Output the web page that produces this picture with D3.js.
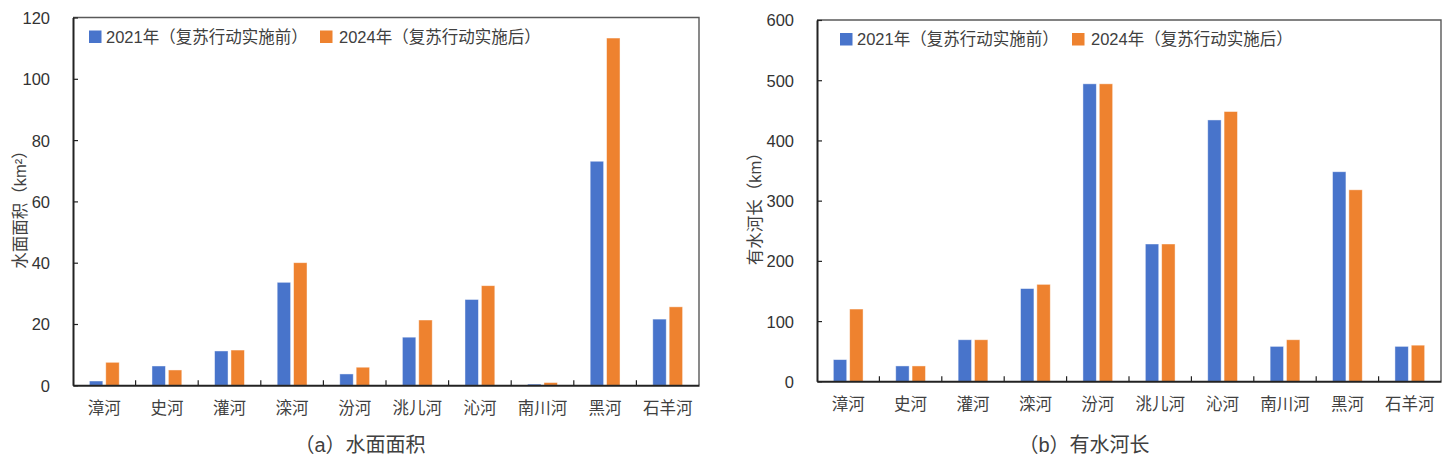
<!DOCTYPE html>
<html>
  <head>
    <meta charset="utf-8" />
    <title>水面面积 / 有水河长</title>
    <style>
      body {
        margin: 0;
        background: #fff;
      }
      svg text {
        font-family: 'Liberation Sans', 'Noto Sans CJK SC', sans-serif;
        fill: #404040;
      }
    </style>
    <script src="https://cdn.jsdelivr.net/npm/d3@7"></script>
  </head>
  <body>
    <svg id="chart" width="1449" height="460"></svg>
    <script>
      var rivers = ['漳河', '史河', '灌河', '滦河', '汾河', '洮儿河', '沁河', '南川河', '黑河', '石羊河'];
      var seriesNames = ['2021年（复苏行动实施前）', '2024年（复苏行动实施后）'];
      var colors = ['#4874CB', '#EE822F'];

      // (a) 水面面积 km²
      var area2021 = [1.4, 6.3, 11.2, 33.6, 3.7, 15.7, 28.0, 0.4, 73.1, 21.6];
      var area2024 = [7.5, 5.0, 11.5, 40.0, 5.9, 21.3, 32.5, 0.9, 113.3, 25.6];
      var areaTicks = [0, 20, 40, 60, 80, 100, 120];

      // (b) 有水河长 km
      var len2021 = [36, 25.5, 69, 154, 494, 228, 434, 58, 348, 58];
      var len2024 = [120, 25.5, 69, 161, 494, 228, 448, 69, 318, 60];
      var lenTicks = [0, 100, 200, 300, 400, 500, 600];

      var svg = d3.select('#chart');

      function panel(cfg) {
        var g = svg.append('g');
        var data = rivers.map((r, i) => ({ river: r, values: cfg.series.map((s) => s[i]) }));

        var x0 = d3.scaleBand().domain(rivers).range([cfg.left, cfg.right]);
        var x1 = d3
          .scaleBand()
          .domain([0, 1])
          .range([0, x0.bandwidth()])
          .paddingInner(0.18)
          .paddingOuter(1.0);
        var y = d3
          .scaleLinear()
          .domain([0, d3.max(cfg.ticks)])
          .range([cfg.bottom, cfg.top]);

        // frame top/right
        g.append('path')
          .attr('d', `M${cfg.left},${cfg.top}H${cfg.right}V${cfg.bottom}`)
          .attr('fill', 'none')
          .attr('stroke', '#595959')
          .attr('stroke-width', 1.4);

        // bars
        g.selectAll('g.river')
          .data(data)
          .join('g')
          .attr('class', 'river')
          .attr('transform', (d) => `translate(${x0(d.river)},0)`)
          .selectAll('rect')
          .data((d) => d.values)
          .join('rect')
          .attr('x', (d, i) => x1(i))
          .attr('width', x1.bandwidth())
          .attr('y', (d) => y(d))
          .attr('height', (d) => cfg.bottom - y(d))
          .attr('fill', (d, i) => colors[i])
          .attr('stroke', 'rgba(255,255,255,0.55)')
          .attr('stroke-width', 0.8);

        // y axis, ticks pointing inward
        var yAxis = g
          .append('g')
          .attr('transform', `translate(${cfg.left},0)`)
          .call(d3.axisLeft(y).tickValues(cfg.ticks).tickSizeInner(-5).tickSizeOuter(0).tickPadding(23));
        yAxis.select('.domain').attr('stroke', '#222').attr('stroke-width', 2);
        yAxis.selectAll('.tick line').attr('stroke', '#222').attr('stroke-width', 1.2);
        yAxis.selectAll('.tick text').attr('font-size', 16.5).style('fill', '#333').attr('dy', '0.36em');

        // x axis, separators between categories
        var xAxis = g
          .append('g')
          .attr('transform', `translate(0,${cfg.bottom})`)
          .call(d3.axisBottom(x0).tickSize(0).tickPadding(17));
        xAxis.select('.domain').attr('stroke', '#222').attr('stroke-width', 2);
        xAxis
          .selectAll('.tick text')
          .attr('font-size', 16.5)
          .attr('font-family', "'Noto Sans CJK SC', sans-serif");
        g.selectAll('line.sep')
          .data(rivers.slice(1))
          .join('line')
          .attr('class', 'sep')
          .attr('x1', (d) => x0(d))
          .attr('x2', (d) => x0(d))
          .attr('y1', cfg.bottom)
          .attr('y2', cfg.bottom - 5)
          .attr('stroke', '#222')
          .attr('stroke-width', 1.2);

        // y label
        g.append('text')
          .attr('transform', `translate(${cfg.yLabelX},${(cfg.top + cfg.bottom) / 2 + 4}) rotate(-90)`)
          .attr('text-anchor', 'middle')
          .attr('dy', '0.35em')
          .attr('font-size', 16.5)
          .attr('font-family', "'Noto Sans CJK SC', sans-serif")
          .text(cfg.yLabel);

        // title
        g.append('text')
          .attr('x', cfg.titleX)
          .attr('y', 445)
          .attr('dy', '0.35em')
          .attr('text-anchor', 'middle')
          .attr('font-size', 20)
          .attr('font-family', "'Noto Sans CJK SC', sans-serif")
          .text(cfg.title);

        // legend
        var leg = g
          .selectAll('g.leg')
          .data(seriesNames)
          .join('g')
          .attr('class', 'leg')
          .attr('transform', (d, i) => `translate(${cfg.legendX[i]},${cfg.top + 13})`);
        leg.append('rect').attr('width', 12.5).attr('height', 12.5).attr('fill', (d, i) => colors[i]);
        leg.append('text')
          .attr('x', (d, i) => (i ? 19 : 17))
          .attr('y', 6.5)
          .attr('dy', '0.36em')
          .attr('font-size', 16.5)
          .text((d) => d);
      }

      panel({
        left: 73, right: 699, top: 17.5, bottom: 385.3,
        series: [area2021, area2024], ticks: areaTicks,
        yLabel: '水面面积（km²）', yLabelX: 20,
        title: '（a）水面面积', titleX: 360,
        legendX: [89, 320],
      });

      panel({
        left: 817, right: 1441, top: 20, bottom: 381.3,
        series: [len2021, len2024], ticks: lenTicks,
        yLabel: '有水河长（km）', yLabelX: 755,
        title: '（b）有水河长', titleX: 1084,
        legendX: [840, 1072],
      });
    </script>
  </body>
</html>
